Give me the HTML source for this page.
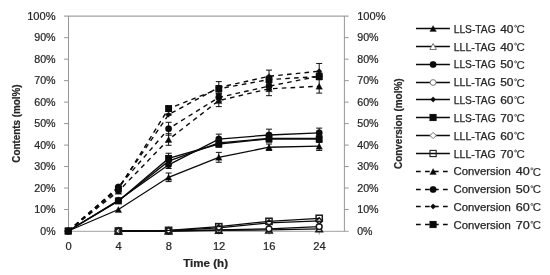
<!DOCTYPE html>
<html><head><meta charset="utf-8"><title>chart</title>
<style>html,body{margin:0;padding:0;background:#fff;width:550px;height:275px;overflow:hidden}</style>
</head><body>
<svg width="550" height="275" viewBox="0 0 550 275" style="display:block;position:absolute;left:0;top:0;will-change:transform">
<rect width="550" height="275" fill="#fff"/>
<g stroke-width="1" fill="none">
<path d="M64.1 16.1H348.7" stroke="#8a8a8a"/>
<path d="M64.1 231.3H348.7" stroke="#a0a0a0"/>
<path d="M68.5 16.1V231.3M344.4 16.1V231.3" stroke="#969696"/>
<path d="M64.1 209.52H68.5M344.4 209.52H348.7" stroke="#969696"/>
<path d="M64.1 188.04H68.5M344.4 188.04H348.7" stroke="#969696"/>
<path d="M64.1 166.56H68.5M344.4 166.56H348.7" stroke="#969696"/>
<path d="M64.1 145.08H68.5M344.4 145.08H348.7" stroke="#969696"/>
<path d="M64.1 123.60H68.5M344.4 123.60H348.7" stroke="#969696"/>
<path d="M64.1 102.12H68.5M344.4 102.12H348.7" stroke="#969696"/>
<path d="M64.1 80.64H68.5M344.4 80.64H348.7" stroke="#969696"/>
<path d="M64.1 59.16H68.5M344.4 59.16H348.7" stroke="#969696"/>
<path d="M64.1 37.68H68.5M344.4 37.68H348.7" stroke="#969696"/>
<path d="M68.2 231.3V234.60000000000002" stroke="#969696"/>
<path d="M118.4 231.3V234.60000000000002" stroke="#969696"/>
<path d="M168.6 231.3V234.60000000000002" stroke="#969696"/>
<path d="M218.8 231.3V234.60000000000002" stroke="#969696"/>
<path d="M269.0 231.3V234.60000000000002" stroke="#969696"/>
<path d="M319.2 231.3V234.60000000000002" stroke="#969696"/>
</g>
<g font-family="'Liberation Sans', sans-serif" fill="#262626" stroke="#262626" stroke-width="0.2">
<text x="55.6" y="234.50" text-anchor="end" font-size="10" font-weight="normal" textLength="15.3" lengthAdjust="spacingAndGlyphs">0%</text>
<text x="357.2" y="234.50" text-anchor="start" font-size="10" font-weight="normal" textLength="15.3" lengthAdjust="spacingAndGlyphs">0%</text>
<text x="55.6" y="213.02" text-anchor="end" font-size="10" font-weight="normal" textLength="21.4" lengthAdjust="spacingAndGlyphs">10%</text>
<text x="357.2" y="213.02" text-anchor="start" font-size="10" font-weight="normal" textLength="21.4" lengthAdjust="spacingAndGlyphs">10%</text>
<text x="55.6" y="191.54" text-anchor="end" font-size="10" font-weight="normal" textLength="21.4" lengthAdjust="spacingAndGlyphs">20%</text>
<text x="357.2" y="191.54" text-anchor="start" font-size="10" font-weight="normal" textLength="21.4" lengthAdjust="spacingAndGlyphs">20%</text>
<text x="55.6" y="170.06" text-anchor="end" font-size="10" font-weight="normal" textLength="21.4" lengthAdjust="spacingAndGlyphs">30%</text>
<text x="357.2" y="170.06" text-anchor="start" font-size="10" font-weight="normal" textLength="21.4" lengthAdjust="spacingAndGlyphs">30%</text>
<text x="55.6" y="148.58" text-anchor="end" font-size="10" font-weight="normal" textLength="21.4" lengthAdjust="spacingAndGlyphs">40%</text>
<text x="357.2" y="148.58" text-anchor="start" font-size="10" font-weight="normal" textLength="21.4" lengthAdjust="spacingAndGlyphs">40%</text>
<text x="55.6" y="127.10" text-anchor="end" font-size="10" font-weight="normal" textLength="21.4" lengthAdjust="spacingAndGlyphs">50%</text>
<text x="357.2" y="127.10" text-anchor="start" font-size="10" font-weight="normal" textLength="21.4" lengthAdjust="spacingAndGlyphs">50%</text>
<text x="55.6" y="105.62" text-anchor="end" font-size="10" font-weight="normal" textLength="21.4" lengthAdjust="spacingAndGlyphs">60%</text>
<text x="357.2" y="105.62" text-anchor="start" font-size="10" font-weight="normal" textLength="21.4" lengthAdjust="spacingAndGlyphs">60%</text>
<text x="55.6" y="84.14" text-anchor="end" font-size="10" font-weight="normal" textLength="21.4" lengthAdjust="spacingAndGlyphs">70%</text>
<text x="357.2" y="84.14" text-anchor="start" font-size="10" font-weight="normal" textLength="21.4" lengthAdjust="spacingAndGlyphs">70%</text>
<text x="55.6" y="62.66" text-anchor="end" font-size="10" font-weight="normal" textLength="21.4" lengthAdjust="spacingAndGlyphs">80%</text>
<text x="357.2" y="62.66" text-anchor="start" font-size="10" font-weight="normal" textLength="21.4" lengthAdjust="spacingAndGlyphs">80%</text>
<text x="55.6" y="41.18" text-anchor="end" font-size="10" font-weight="normal" textLength="21.4" lengthAdjust="spacingAndGlyphs">90%</text>
<text x="357.2" y="41.18" text-anchor="start" font-size="10" font-weight="normal" textLength="21.4" lengthAdjust="spacingAndGlyphs">90%</text>
<text x="55.6" y="19.70" text-anchor="end" font-size="10" font-weight="normal" textLength="28.4" lengthAdjust="spacingAndGlyphs">100%</text>
<text x="357.2" y="19.70" text-anchor="start" font-size="10" font-weight="normal" textLength="28.4" lengthAdjust="spacingAndGlyphs">100%</text>
<text x="68.5" y="249.7" text-anchor="middle" font-size="10" font-weight="normal" textLength="6.2" lengthAdjust="spacingAndGlyphs">0</text>
<text x="118.7" y="249.7" text-anchor="middle" font-size="10" font-weight="normal" textLength="6.2" lengthAdjust="spacingAndGlyphs">4</text>
<text x="168.9" y="249.7" text-anchor="middle" font-size="10" font-weight="normal" textLength="6.2" lengthAdjust="spacingAndGlyphs">8</text>
<text x="219.10000000000002" y="249.7" text-anchor="middle" font-size="10" font-weight="normal" textLength="12.4" lengthAdjust="spacingAndGlyphs">12</text>
<text x="269.3" y="249.7" text-anchor="middle" font-size="10" font-weight="normal" textLength="12.4" lengthAdjust="spacingAndGlyphs">16</text>
<text x="319.5" y="249.7" text-anchor="middle" font-size="10" font-weight="normal" textLength="12.4" lengthAdjust="spacingAndGlyphs">24</text>
<text x="183.2" y="267.3" text-anchor="start" font-size="10.2" font-weight="bold" textLength="44.8" lengthAdjust="spacingAndGlyphs">Time (h)</text>
<text transform="translate(19.6 162.7) rotate(-90)" font-size="10" font-weight="bold" textLength="78.2" lengthAdjust="spacingAndGlyphs">Contents (mol%)</text>
<text transform="translate(402.1 169) rotate(-90)" font-size="10" font-weight="bold" textLength="90.6" lengthAdjust="spacingAndGlyphs">Conversion (mol%)</text>
</g>
<path d="M68.20 231.00L118.40 209.52L168.60 177.30L218.80 157.32L269.00 147.23L319.20 146.15" fill="none" stroke="#0a0a0a" stroke-width="1.3"/>
<path d="M168.6 173.00V181.60M165.6 173.00H171.6M165.6 181.60H171.6" stroke="#111" stroke-width="1" fill="none"/>
<path d="M218.8 152.38V162.26M215.8 152.38H221.8M215.8 162.26H221.8" stroke="#111" stroke-width="1" fill="none"/>
<path d="M269.0 144.01V150.45M266.0 144.01H272.0M266.0 150.45H272.0" stroke="#111" stroke-width="1" fill="none"/>
<path d="M319.2 141.86V150.45M316.2 141.86H322.2M316.2 150.45H322.2" stroke="#111" stroke-width="1" fill="none"/>
<path d="M68.20 228.00L71.50 234.00L64.90 234.00Z" fill="#0a0a0a" stroke="#0a0a0a" stroke-width="0.3"/>
<path d="M118.40 206.52L121.70 212.52L115.10 212.52Z" fill="#0a0a0a" stroke="#0a0a0a" stroke-width="0.3"/>
<path d="M168.60 174.30L171.90 180.30L165.30 180.30Z" fill="#0a0a0a" stroke="#0a0a0a" stroke-width="0.3"/>
<path d="M218.80 154.32L222.10 160.32L215.50 160.32Z" fill="#0a0a0a" stroke="#0a0a0a" stroke-width="0.3"/>
<path d="M269.00 144.23L272.30 150.23L265.70 150.23Z" fill="#0a0a0a" stroke="#0a0a0a" stroke-width="0.3"/>
<path d="M319.20 143.15L322.50 149.15L315.90 149.15Z" fill="#0a0a0a" stroke="#0a0a0a" stroke-width="0.3"/>
<path d="M118.40 231.00L168.60 231.00L218.80 230.36L269.00 229.93L319.20 228.85" fill="none" stroke="#0a0a0a" stroke-width="1.3"/>
<path d="M118.40 228.00L121.70 234.00L115.10 234.00Z" fill="#fff" stroke="#1a1a1a" stroke-width="1.5"/>
<path d="M168.60 228.00L171.90 234.00L165.30 234.00Z" fill="#fff" stroke="#1a1a1a" stroke-width="1.5"/>
<path d="M218.80 227.36L222.10 233.36L215.50 233.36Z" fill="#fff" stroke="#1a1a1a" stroke-width="1.5"/>
<path d="M269.00 226.93L272.30 232.93L265.70 232.93Z" fill="#fff" stroke="#1a1a1a" stroke-width="1.5"/>
<path d="M319.20 225.85L322.50 231.85L315.90 231.85Z" fill="#fff" stroke="#1a1a1a" stroke-width="1.5"/>
<path d="M68.20 231.00L118.40 200.28L168.60 164.84L218.80 139.07L269.00 134.98L319.20 132.84" fill="none" stroke="#0a0a0a" stroke-width="1.3"/>
<path d="M168.6 161.19V168.49M165.6 161.19H171.6M165.6 168.49H171.6" stroke="#111" stroke-width="1" fill="none"/>
<path d="M218.8 134.13V144.01M215.8 134.13H221.8M215.8 144.01H221.8" stroke="#111" stroke-width="1" fill="none"/>
<path d="M269.0 129.18V140.78M266.0 129.18H272.0M266.0 140.78H272.0" stroke="#111" stroke-width="1" fill="none"/>
<path d="M319.2 128.11V137.56M316.2 128.11H322.2M316.2 137.56H322.2" stroke="#111" stroke-width="1" fill="none"/>
<circle cx="68.20" cy="231.00" r="3.25" fill="#0a0a0a" stroke="#0a0a0a" stroke-width="0.3"/>
<circle cx="118.40" cy="200.28" r="3.25" fill="#0a0a0a" stroke="#0a0a0a" stroke-width="0.3"/>
<circle cx="168.60" cy="164.84" r="3.25" fill="#0a0a0a" stroke="#0a0a0a" stroke-width="0.3"/>
<circle cx="218.80" cy="139.07" r="3.25" fill="#0a0a0a" stroke="#0a0a0a" stroke-width="0.3"/>
<circle cx="269.00" cy="134.98" r="3.25" fill="#0a0a0a" stroke="#0a0a0a" stroke-width="0.3"/>
<circle cx="319.20" cy="132.84" r="3.25" fill="#0a0a0a" stroke="#0a0a0a" stroke-width="0.3"/>
<path d="M118.40 231.00L168.60 231.00L218.80 229.93L269.00 228.85L319.20 226.70" fill="none" stroke="#0a0a0a" stroke-width="1.3"/>
<circle cx="118.40" cy="231.00" r="2.9" fill="#fff" stroke="#1a1a1a" stroke-width="1.5"/>
<circle cx="168.60" cy="231.00" r="2.9" fill="#fff" stroke="#1a1a1a" stroke-width="1.5"/>
<circle cx="218.80" cy="229.93" r="2.9" fill="#fff" stroke="#1a1a1a" stroke-width="1.5"/>
<circle cx="269.00" cy="228.85" r="2.9" fill="#fff" stroke="#1a1a1a" stroke-width="1.5"/>
<circle cx="319.20" cy="226.70" r="2.9" fill="#fff" stroke="#1a1a1a" stroke-width="1.5"/>
<path d="M68.20 231.00L118.40 200.93L168.60 161.19L218.80 142.93L269.00 138.42L319.20 138.42" fill="none" stroke="#0a0a0a" stroke-width="1.3"/>
<path d="M168.6 157.97V164.41M165.6 157.97H171.6M165.6 164.41H171.6" stroke="#111" stroke-width="1" fill="none"/>
<path d="M218.8 139.71V146.15M215.8 139.71H221.8M215.8 146.15H221.8" stroke="#111" stroke-width="1" fill="none"/>
<path d="M269.0 135.20V141.64M266.0 135.20H272.0M266.0 141.64H272.0" stroke="#111" stroke-width="1" fill="none"/>
<path d="M319.2 135.20V141.64M316.2 135.20H322.2M316.2 141.64H322.2" stroke="#111" stroke-width="1" fill="none"/>
<path d="M68.20 228.30L70.90 231.00L68.20 233.70L65.50 231.00Z" fill="#0a0a0a" stroke="#0a0a0a" stroke-width="0.3"/>
<path d="M118.40 198.23L121.10 200.93L118.40 203.63L115.70 200.93Z" fill="#0a0a0a" stroke="#0a0a0a" stroke-width="0.3"/>
<path d="M168.60 158.49L171.30 161.19L168.60 163.89L165.90 161.19Z" fill="#0a0a0a" stroke="#0a0a0a" stroke-width="0.3"/>
<path d="M218.80 140.23L221.50 142.93L218.80 145.63L216.10 142.93Z" fill="#0a0a0a" stroke="#0a0a0a" stroke-width="0.3"/>
<path d="M269.00 135.72L271.70 138.42L269.00 141.12L266.30 138.42Z" fill="#0a0a0a" stroke="#0a0a0a" stroke-width="0.3"/>
<path d="M319.20 135.72L321.90 138.42L319.20 141.12L316.50 138.42Z" fill="#0a0a0a" stroke="#0a0a0a" stroke-width="0.3"/>
<path d="M68.20 231.00L118.40 200.93L168.60 158.40L218.80 144.01L269.00 138.85L319.20 139.07" fill="none" stroke="#0a0a0a" stroke-width="1.3"/>
<path d="M168.6 153.24V163.55M165.6 153.24H171.6M165.6 163.55H171.6" stroke="#111" stroke-width="1" fill="none"/>
<path d="M218.8 140.78V147.23M215.8 140.78H221.8M215.8 147.23H221.8" stroke="#111" stroke-width="1" fill="none"/>
<path d="M269.0 135.63V142.07M266.0 135.63H272.0M266.0 142.07H272.0" stroke="#111" stroke-width="1" fill="none"/>
<path d="M319.2 135.84V142.29M316.2 135.84H322.2M316.2 142.29H322.2" stroke="#111" stroke-width="1" fill="none"/>
<rect x="64.75" y="227.55" width="6.9" height="6.9" fill="#0a0a0a"/>
<rect x="114.95" y="197.48" width="6.9" height="6.9" fill="#0a0a0a"/>
<rect x="165.15" y="154.95" width="6.9" height="6.9" fill="#0a0a0a"/>
<rect x="215.35" y="140.56" width="6.9" height="6.9" fill="#0a0a0a"/>
<rect x="265.55" y="135.40" width="6.9" height="6.9" fill="#0a0a0a"/>
<rect x="315.75" y="135.62" width="6.9" height="6.9" fill="#0a0a0a"/>
<path d="M118.40 231.00L168.60 230.57L218.80 227.78L269.00 222.84L319.20 220.90" fill="none" stroke="#0a0a0a" stroke-width="1.3"/>
<path d="M118.40 227.90L121.50 231.00L118.40 234.10L115.30 231.00Z" fill="#fff" stroke="#1a1a1a" stroke-width="1.5"/>
<path d="M168.60 227.47L171.70 230.57L168.60 233.67L165.50 230.57Z" fill="#fff" stroke="#1a1a1a" stroke-width="1.5"/>
<path d="M218.80 224.68L221.90 227.78L218.80 230.88L215.70 227.78Z" fill="#fff" stroke="#1a1a1a" stroke-width="1.5"/>
<path d="M269.00 219.74L272.10 222.84L269.00 225.94L265.90 222.84Z" fill="#fff" stroke="#1a1a1a" stroke-width="1.5"/>
<path d="M319.20 217.80L322.30 220.90L319.20 224.00L316.10 220.90Z" fill="#fff" stroke="#1a1a1a" stroke-width="1.5"/>
<path d="M118.40 231.00L168.60 230.36L218.80 226.70L269.00 221.33L319.20 218.33" fill="none" stroke="#0a0a0a" stroke-width="1.3"/>
<rect x="115.30" y="227.90" width="6.2" height="6.2" fill="none" stroke="#1c1c1c" stroke-width="1.5"/>
<rect x="165.50" y="227.26" width="6.2" height="6.2" fill="none" stroke="#1c1c1c" stroke-width="1.5"/>
<rect x="215.70" y="223.60" width="6.2" height="6.2" fill="none" stroke="#1c1c1c" stroke-width="1.5"/>
<rect x="265.90" y="218.23" width="6.2" height="6.2" fill="none" stroke="#1c1c1c" stroke-width="1.5"/>
<rect x="316.10" y="215.23" width="6.2" height="6.2" fill="none" stroke="#1c1c1c" stroke-width="1.5"/>
<path d="M68.20 231.00L118.40 191.26L168.60 139.50L218.80 100.62L269.00 88.80L319.20 86.22" fill="none" stroke="#0a0a0a" stroke-width="1.4" stroke-dasharray="4.6 4.2"/>
<path d="M168.6 133.70V145.29M165.6 133.70H171.6M165.6 145.29H171.6" stroke="#111" stroke-width="1" fill="none"/>
<path d="M218.8 94.60V106.63M215.8 94.60H221.8M215.8 106.63H221.8" stroke="#111" stroke-width="1" fill="none"/>
<path d="M269.0 81.93V95.68M266.0 81.93H272.0M266.0 95.68H272.0" stroke="#111" stroke-width="1" fill="none"/>
<path d="M319.2 79.35V93.10M316.2 79.35H322.2M316.2 93.10H322.2" stroke="#111" stroke-width="1" fill="none"/>
<path d="M68.20 228.00L71.50 234.00L64.90 234.00Z" fill="#0a0a0a" stroke="#0a0a0a" stroke-width="0.3"/>
<path d="M118.40 188.26L121.70 194.26L115.10 194.26Z" fill="#0a0a0a" stroke="#0a0a0a" stroke-width="0.3"/>
<path d="M168.60 136.50L171.90 142.50L165.30 142.50Z" fill="#0a0a0a" stroke="#0a0a0a" stroke-width="0.3"/>
<path d="M218.80 97.62L222.10 103.62L215.50 103.62Z" fill="#0a0a0a" stroke="#0a0a0a" stroke-width="0.3"/>
<path d="M269.00 85.80L272.30 91.80L265.70 91.80Z" fill="#0a0a0a" stroke="#0a0a0a" stroke-width="0.3"/>
<path d="M319.20 83.22L322.50 89.22L315.90 89.22Z" fill="#0a0a0a" stroke="#0a0a0a" stroke-width="0.3"/>
<path d="M68.20 231.00L118.40 186.97L168.60 128.76L218.80 97.39L269.00 86.22L319.20 76.13" fill="none" stroke="#0a0a0a" stroke-width="1.4" stroke-dasharray="4.6 4.2"/>
<path d="M168.6 122.31V135.20M165.6 122.31H171.6M165.6 135.20H171.6" stroke="#111" stroke-width="1" fill="none"/>
<path d="M218.8 93.53V101.26M215.8 93.53H221.8M215.8 101.26H221.8" stroke="#111" stroke-width="1" fill="none"/>
<path d="M269.0 83.00V89.45M266.0 83.00H272.0M266.0 89.45H272.0" stroke="#111" stroke-width="1" fill="none"/>
<path d="M319.2 72.91V79.35M316.2 72.91H322.2M316.2 79.35H322.2" stroke="#111" stroke-width="1" fill="none"/>
<circle cx="68.20" cy="231.00" r="3.25" fill="#0a0a0a" stroke="#0a0a0a" stroke-width="0.3"/>
<circle cx="118.40" cy="186.97" r="3.25" fill="#0a0a0a" stroke="#0a0a0a" stroke-width="0.3"/>
<circle cx="168.60" cy="128.76" r="3.25" fill="#0a0a0a" stroke="#0a0a0a" stroke-width="0.3"/>
<circle cx="218.80" cy="97.39" r="3.25" fill="#0a0a0a" stroke="#0a0a0a" stroke-width="0.3"/>
<circle cx="269.00" cy="86.22" r="3.25" fill="#0a0a0a" stroke="#0a0a0a" stroke-width="0.3"/>
<circle cx="319.20" cy="76.13" r="3.25" fill="#0a0a0a" stroke="#0a0a0a" stroke-width="0.3"/>
<path d="M68.20 231.00L118.40 188.04L168.60 114.58L218.80 87.51L269.00 76.34L319.20 71.19" fill="none" stroke="#0a0a0a" stroke-width="1.4" stroke-dasharray="4.6 4.2"/>
<path d="M168.6 113.93V115.22M165.6 113.93H171.6M165.6 115.22H171.6" stroke="#111" stroke-width="1" fill="none"/>
<path d="M218.8 81.61V93.42M215.8 81.61H221.8M215.8 93.42H221.8" stroke="#111" stroke-width="1" fill="none"/>
<path d="M269.0 70.11V82.57M266.0 70.11H272.0M266.0 82.57H272.0" stroke="#111" stroke-width="1" fill="none"/>
<path d="M319.2 63.46V78.92M316.2 63.46H322.2M316.2 78.92H322.2" stroke="#111" stroke-width="1" fill="none"/>
<path d="M68.20 228.30L70.90 231.00L68.20 233.70L65.50 231.00Z" fill="#0a0a0a" stroke="#0a0a0a" stroke-width="0.3"/>
<path d="M118.40 185.34L121.10 188.04L118.40 190.74L115.70 188.04Z" fill="#0a0a0a" stroke="#0a0a0a" stroke-width="0.3"/>
<path d="M168.60 111.88L171.30 114.58L168.60 117.28L165.90 114.58Z" fill="#0a0a0a" stroke="#0a0a0a" stroke-width="0.3"/>
<path d="M218.80 84.81L221.50 87.51L218.80 90.21L216.10 87.51Z" fill="#0a0a0a" stroke="#0a0a0a" stroke-width="0.3"/>
<path d="M269.00 73.64L271.70 76.34L269.00 79.04L266.30 76.34Z" fill="#0a0a0a" stroke="#0a0a0a" stroke-width="0.3"/>
<path d="M319.20 68.49L321.90 71.19L319.20 73.89L316.50 71.19Z" fill="#0a0a0a" stroke="#0a0a0a" stroke-width="0.3"/>
<path d="M68.20 231.00L118.40 189.11L168.60 108.56L218.80 88.80L269.00 79.57L319.20 76.56" fill="none" stroke="#0a0a0a" stroke-width="1.4" stroke-dasharray="4.6 4.2"/>
<path d="M168.6 105.99V111.14M165.6 105.99H171.6M165.6 111.14H171.6" stroke="#111" stroke-width="1" fill="none"/>
<path d="M218.8 85.58V92.02M215.8 85.58H221.8M215.8 92.02H221.8" stroke="#111" stroke-width="1" fill="none"/>
<path d="M269.0 76.34V82.79M266.0 76.34H272.0M266.0 82.79H272.0" stroke="#111" stroke-width="1" fill="none"/>
<path d="M319.2 73.34V79.78M316.2 73.34H322.2M316.2 79.78H322.2" stroke="#111" stroke-width="1" fill="none"/>
<rect x="64.75" y="227.55" width="6.9" height="6.9" fill="#0a0a0a"/>
<rect x="114.95" y="185.66" width="6.9" height="6.9" fill="#0a0a0a"/>
<rect x="165.15" y="105.11" width="6.9" height="6.9" fill="#0a0a0a"/>
<rect x="215.35" y="85.35" width="6.9" height="6.9" fill="#0a0a0a"/>
<rect x="265.55" y="76.12" width="6.9" height="6.9" fill="#0a0a0a"/>
<rect x="315.75" y="73.11" width="6.9" height="6.9" fill="#0a0a0a"/>
<g font-family="'Liberation Sans', sans-serif" fill="#262626" font-size="10" stroke="#262626" stroke-width="0.25">
<path d="M416 28.50H449.9" stroke="#0a0a0a" stroke-width="1.3" fill="none"/>
<path d="M433.10 25.50L436.40 31.50L429.80 31.50Z" fill="#0a0a0a" stroke="#0a0a0a" stroke-width="0.3"/>
<text x="453.7" y="32.85" textLength="42.0" lengthAdjust="spacingAndGlyphs">LLS-TAG</text>
<text x="500.2" y="32.85" textLength="13.3" lengthAdjust="spacingAndGlyphs">40</text>
<circle cx="515.60" cy="26.25" r="1.0" fill="none" stroke="#262626" stroke-width="0.7"/>
<text x="516.50" y="33.05" font-size="10.8" stroke-width="0.1" textLength="8.3" lengthAdjust="spacingAndGlyphs">C</text>
<path d="M416 46.50H449.9" stroke="#0a0a0a" stroke-width="1.3" fill="none"/>
<path d="M433.10 43.50L436.40 49.50L429.80 49.50Z" fill="#fff" stroke="#777" stroke-width="1.0"/>
<text x="453.7" y="50.67" textLength="42.0" lengthAdjust="spacingAndGlyphs">LLL-TAG</text>
<text x="500.2" y="50.67" textLength="13.3" lengthAdjust="spacingAndGlyphs">40</text>
<circle cx="515.60" cy="44.07" r="1.0" fill="none" stroke="#262626" stroke-width="0.7"/>
<text x="516.50" y="50.87" font-size="10.8" stroke-width="0.1" textLength="8.3" lengthAdjust="spacingAndGlyphs">C</text>
<path d="M416 64.50H449.9" stroke="#0a0a0a" stroke-width="1.3" fill="none"/>
<circle cx="433.10" cy="64.50" r="3.25" fill="#0a0a0a" stroke="#0a0a0a" stroke-width="0.3"/>
<text x="453.7" y="68.49" textLength="42.0" lengthAdjust="spacingAndGlyphs">LLS-TAG</text>
<text x="500.2" y="68.49" textLength="13.3" lengthAdjust="spacingAndGlyphs">50</text>
<circle cx="515.60" cy="61.89" r="1.0" fill="none" stroke="#262626" stroke-width="0.7"/>
<text x="516.50" y="68.69" font-size="10.8" stroke-width="0.1" textLength="8.3" lengthAdjust="spacingAndGlyphs">C</text>
<path d="M416 82.50H449.9" stroke="#0a0a0a" stroke-width="1.3" fill="none"/>
<circle cx="433.10" cy="82.50" r="2.9" fill="#fff" stroke="#777" stroke-width="1.0"/>
<text x="453.7" y="86.31" textLength="42.0" lengthAdjust="spacingAndGlyphs">LLL-TAG</text>
<text x="500.2" y="86.31" textLength="13.3" lengthAdjust="spacingAndGlyphs">50</text>
<circle cx="515.60" cy="79.71" r="1.0" fill="none" stroke="#262626" stroke-width="0.7"/>
<text x="516.50" y="86.51" font-size="10.8" stroke-width="0.1" textLength="8.3" lengthAdjust="spacingAndGlyphs">C</text>
<path d="M416 99.50H449.9" stroke="#0a0a0a" stroke-width="1.3" fill="none"/>
<path d="M433.10 96.80L435.80 99.50L433.10 102.20L430.40 99.50Z" fill="#0a0a0a" stroke="#0a0a0a" stroke-width="0.3"/>
<text x="453.7" y="104.13" textLength="42.0" lengthAdjust="spacingAndGlyphs">LLS-TAG</text>
<text x="500.2" y="104.13" textLength="13.3" lengthAdjust="spacingAndGlyphs">60</text>
<circle cx="515.60" cy="97.53" r="1.0" fill="none" stroke="#262626" stroke-width="0.7"/>
<text x="516.50" y="104.33" font-size="10.8" stroke-width="0.1" textLength="8.3" lengthAdjust="spacingAndGlyphs">C</text>
<path d="M416 117.50H449.9" stroke="#0a0a0a" stroke-width="1.3" fill="none"/>
<rect x="429.65" y="114.05" width="6.9" height="6.9" fill="#0a0a0a"/>
<text x="453.7" y="121.95" textLength="42.0" lengthAdjust="spacingAndGlyphs">LLS-TAG</text>
<text x="500.2" y="121.95" textLength="13.3" lengthAdjust="spacingAndGlyphs">70</text>
<circle cx="515.60" cy="115.35" r="1.0" fill="none" stroke="#262626" stroke-width="0.7"/>
<text x="516.50" y="122.15" font-size="10.8" stroke-width="0.1" textLength="8.3" lengthAdjust="spacingAndGlyphs">C</text>
<path d="M416 135.50H449.9" stroke="#0a0a0a" stroke-width="1.3" fill="none"/>
<path d="M433.10 132.40L436.20 135.50L433.10 138.60L430.00 135.50Z" fill="#fff" stroke="#777" stroke-width="1.0"/>
<text x="453.7" y="139.77" textLength="42.0" lengthAdjust="spacingAndGlyphs">LLL-TAG</text>
<text x="500.2" y="139.77" textLength="13.3" lengthAdjust="spacingAndGlyphs">60</text>
<circle cx="515.60" cy="133.17" r="1.0" fill="none" stroke="#262626" stroke-width="0.7"/>
<text x="516.50" y="139.97" font-size="10.8" stroke-width="0.1" textLength="8.3" lengthAdjust="spacingAndGlyphs">C</text>
<path d="M416 153.50H449.9" stroke="#0a0a0a" stroke-width="1.3" fill="none"/>
<rect x="430.00" y="150.40" width="6.2" height="6.2" fill="none" stroke="#1c1c1c" stroke-width="1.1"/>
<text x="453.7" y="157.59" textLength="42.0" lengthAdjust="spacingAndGlyphs">LLL-TAG</text>
<text x="500.2" y="157.59" textLength="13.3" lengthAdjust="spacingAndGlyphs">70</text>
<circle cx="515.60" cy="150.99" r="1.0" fill="none" stroke="#262626" stroke-width="0.7"/>
<text x="516.50" y="157.79" font-size="10.8" stroke-width="0.1" textLength="8.3" lengthAdjust="spacingAndGlyphs">C</text>
<path d="M416 171.50H447.7" stroke="#0a0a0a" stroke-width="1.6" stroke-dasharray="4.7 4.3" fill="none"/>
<path d="M433.10 168.50L436.40 174.50L429.80 174.50Z" fill="#0a0a0a" stroke="#0a0a0a" stroke-width="0.3"/>
<text x="453.6" y="175.41" textLength="57.3" lengthAdjust="spacingAndGlyphs">Conversion</text>
<text x="515.8" y="175.41" textLength="14.0" lengthAdjust="spacingAndGlyphs">40</text>
<circle cx="531.90" cy="168.81" r="1.0" fill="none" stroke="#262626" stroke-width="0.7"/>
<text x="532.80" y="175.61" font-size="10.8" stroke-width="0.1" textLength="8.3" lengthAdjust="spacingAndGlyphs">C</text>
<path d="M416 189.50H447.7" stroke="#0a0a0a" stroke-width="1.6" stroke-dasharray="4.7 4.3" fill="none"/>
<circle cx="433.10" cy="189.50" r="3.25" fill="#0a0a0a" stroke="#0a0a0a" stroke-width="0.3"/>
<text x="453.6" y="193.23" textLength="57.3" lengthAdjust="spacingAndGlyphs">Conversion</text>
<text x="515.8" y="193.23" textLength="14.0" lengthAdjust="spacingAndGlyphs">50</text>
<circle cx="531.90" cy="186.63" r="1.0" fill="none" stroke="#262626" stroke-width="0.7"/>
<text x="532.80" y="193.43" font-size="10.8" stroke-width="0.1" textLength="8.3" lengthAdjust="spacingAndGlyphs">C</text>
<path d="M416 206.50H447.7" stroke="#0a0a0a" stroke-width="1.6" stroke-dasharray="4.7 4.3" fill="none"/>
<path d="M433.10 203.80L435.80 206.50L433.10 209.20L430.40 206.50Z" fill="#0a0a0a" stroke="#0a0a0a" stroke-width="0.3"/>
<text x="453.6" y="211.05" textLength="57.3" lengthAdjust="spacingAndGlyphs">Conversion</text>
<text x="515.8" y="211.05" textLength="14.0" lengthAdjust="spacingAndGlyphs">60</text>
<circle cx="531.90" cy="204.45" r="1.0" fill="none" stroke="#262626" stroke-width="0.7"/>
<text x="532.80" y="211.25" font-size="10.8" stroke-width="0.1" textLength="8.3" lengthAdjust="spacingAndGlyphs">C</text>
<path d="M416 224.50H447.7" stroke="#0a0a0a" stroke-width="1.6" stroke-dasharray="4.7 4.3" fill="none"/>
<rect x="429.65" y="221.05" width="6.9" height="6.9" fill="#0a0a0a"/>
<text x="453.6" y="228.87" textLength="57.3" lengthAdjust="spacingAndGlyphs">Conversion</text>
<text x="515.8" y="228.87" textLength="14.0" lengthAdjust="spacingAndGlyphs">70</text>
<circle cx="531.90" cy="222.27" r="1.0" fill="none" stroke="#262626" stroke-width="0.7"/>
<text x="532.80" y="229.07" font-size="10.8" stroke-width="0.1" textLength="8.3" lengthAdjust="spacingAndGlyphs">C</text>
</g>
</svg>
</body></html>
